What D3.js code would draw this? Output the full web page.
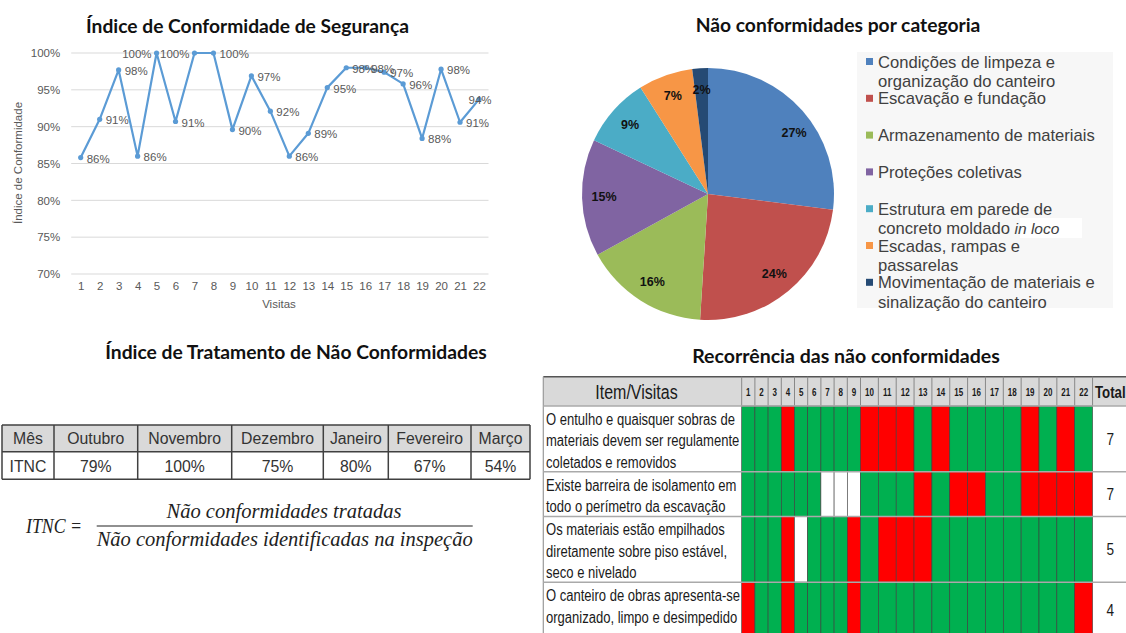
<!DOCTYPE html>
<html><head><meta charset="utf-8">
<script src="https://cdn.jsdelivr.net/npm/d3@7"></script>
<style>body{margin:0;background:#fff}svg{display:block}</style>
</head><body><svg id="c" width="1126" height="633"></svg>
<script>
// ---------- DATA ----------
const visits = ["1","2","3","4","5","6","7","8","9","10","11","12","13","14","15","16","17","18","19","20","21","22"];
const conformity = [0.858,0.910,0.977,0.860,1.000,0.907,1.000,1.000,0.896,0.969,0.921,0.860,0.891,0.953,0.980,0.980,0.974,0.958,0.884,0.978,0.906,0.937];
const yTicks = [0.70,0.75,0.80,0.85,0.90,0.95,1.00];

const categories = [
  ["Condições de limpeza e","organização do canteiro"],
  ["Escavação e fundação"],
  ["Armazenamento de materiais"],
  ["Proteções coletivas"],
  ["Estrutura em parede de","concreto moldado |in loco"],
  ["Escadas, rampas e","passarelas"],
  ["Movimentação de materiais e","sinalização do canteiro"]
];
const categoryShares = [27,24,16,15,9,7,2];
const categoryColors = ["#4f81bd","#c0504d","#9bbb59","#8064a2","#4bacc6","#f79646","#254a74"];

const months = ["Outubro","Novembro","Dezembro","Janeiro","Fevereiro","Março"];
const itnc = [79,100,75,80,67,54];

const items = [
  ["O entulho e quaisquer sobras de","materiais devem ser regulamente","coletados e removidos"],
  ["Existe barreira de isolamento em","todo o perímetro da escavação"],
  ["Os materiais estão empilhados","diretamente sobre piso estável,","seco e nivelado"],
  ["O canteiro de obras apresenta-se","organizado, limpo e desimpedido"]
];
// R = não conforme, G = conforme, W = não avaliado
const recurrence = [
  "GGGRGGGGGRRRGRGGGGRGRG",
  "GGGGGGWWWGGGRGRRGGRRRR",
  "GGGRWGGGRGRRRGGGGGGGGG",
  "RGGRGGGGRGGGGGGGGGGGGR"
];
const totals = [7,7,5,4];

// ---------- DRAW ----------
const svg = d3.select("#c");
const SANS = "'Liberation Sans', Arial, sans-serif";
const TITLE = "Lato, 'Open Sans', sans-serif";

function title(txt, cx, cy, w){
  const t = svg.append("text").attr("x",cx).attr("y",cy).attr("text-anchor","middle")
    .attr("dominant-baseline","central").attr("font-family",TITLE).attr("font-weight","bold")
    .attr("font-size",19).attr("fill","#111").text(txt);
  const L = t.node().getComputedTextLength();
  t.attr("font-size", 19*w/L);
}

// ===== Line chart =====
title("Índice de Conformidade de Segurança", 247.5, 25, 323);
const x = d3.scalePoint().domain(visits).range([80.7,479]);
const y = d3.scaleLinear().domain([0.70,1.00]).range([274,53]);
const lc = svg.append("g");
lc.selectAll("line.grid").data(yTicks).join("line").attr("class","grid")
  .attr("x1",71.2).attr("x2",488.5).attr("y1",d=>y(d)).attr("y2",d=>y(d))
  .attr("stroke","#d9d9d9").attr("stroke-width",1);
const ya = lc.append("g").attr("transform","translate(71.2,0)")
  .call(d3.axisLeft(y).tickValues(yTicks).tickFormat(d3.format(".0%")).tickSize(0).tickPadding(11));
ya.select(".domain").remove();
ya.selectAll("text").attr("font-family",SANS).attr("font-size",11.5).attr("fill","#595959");
const xa = lc.append("g").attr("transform","translate(0,274)")
  .call(d3.axisBottom(x).tickSize(0).tickPadding(8));
xa.select(".domain").remove();
xa.selectAll("text").attr("font-family",SANS).attr("font-size",11.5).attr("fill","#595959");
lc.append("text").attr("x",279).attr("y",304).attr("text-anchor","middle").attr("dominant-baseline","central")
  .attr("font-family",SANS).attr("font-size",11.5).attr("fill","#595959").text("Visitas");
lc.append("text").attr("transform","translate(18,163) rotate(-90)").attr("text-anchor","middle")
  .attr("dominant-baseline","central").attr("font-family",SANS).attr("font-size",11.5).attr("fill","#595959")
  .text("Índice de Conformidade");
lc.append("path").datum(conformity)
  .attr("d", d3.line().x((d,i)=>x(visits[i])).y(d=>y(d)))
  .attr("fill","none").attr("stroke","#5b9bd5").attr("stroke-width",2.2).attr("stroke-linejoin","round");
lc.selectAll("circle").data(conformity).join("circle")
  .attr("cx",(d,i)=>x(visits[i])).attr("cy",d=>y(d)).attr("r",2.6).attr("fill","#5b9bd5");
const leftLab = new Set([4,6]), centerLab = new Set([21]);
lc.selectAll("text.lab").data(conformity).join("text").attr("class","lab")
  .attr("x",(d,i)=> x(visits[i]) + (leftLab.has(i)? -5 : centerLab.has(i)? 1 : 6))
  .attr("y",d=>y(d)+1)
  .attr("text-anchor",(d,i)=> leftLab.has(i)?"end":centerLab.has(i)?"middle":"start")
  .attr("dominant-baseline","central")
  .attr("font-family",SANS).attr("font-size",11.5).attr("fill","#595959")
  .text(d=>Math.round(d*100)+"%");

// ===== Pie chart =====
title("Não conformidades por categoria", 838, 24, 285);
const pg = svg.append("g").attr("transform","translate(708,194)");
const pie = d3.pie().sort(null).value(d=>d);
const arcs = pie(categoryShares);
const arc = d3.arc().innerRadius(0).outerRadius(126);
const larc = d3.arc().innerRadius(104).outerRadius(104);
pg.selectAll("path").data(arcs).join("path").attr("d",arc).attr("fill",(d,i)=>categoryColors[i]);
pg.selectAll("text").data(arcs).join("text")
  .attr("transform",(d,i)=>{ const c = larc.centroid(d); if(i===0){c[0]+=8;c[1]+=8;} return `translate(${c})`; })
  .attr("text-anchor","middle").attr("dominant-baseline","central")
  .attr("font-family",SANS).attr("font-weight","bold").attr("font-size",12.5).attr("fill","#111")
  .text(d=>d.data+"%");

// legend
svg.append("rect").attr("x",857).attr("y",52).attr("width",256).attr("height",256).attr("fill","#f7f7f7");
const lg = svg.append("g");
categories.forEach((lines,i)=>{
  const cy = 61.5 + i*36.8;
  lg.append("rect").attr("x",866).attr("y",cy-3.5).attr("width",7).attr("height",7).attr("fill",categoryColors[i]);
  lines.forEach((ln,j)=>{
    const parts = ln.split("|");
    if(parts.length>1){
      lg.append("rect").attr("x",1020).attr("y",cy+j*19.3-10).attr("width",62).attr("height",20).attr("fill","#fff");
    }
    const t = lg.append("text").attr("x",878).attr("y",cy+j*19.3).attr("dominant-baseline","central")
      .attr("font-family",SANS).attr("font-size",16.6).attr("fill","#404040");
    t.append("tspan").text(parts[0]);
    if(parts.length>1) t.append("tspan").attr("font-style","italic").attr("font-size",15.5).text(parts[1]);
  });
});

// ===== ITNC table =====
title("Índice de Tratamento de Não Conformidades", 296, 351, 382);
const colX = [2,54,137.7,231.7,323.3,388.3,471,530];
const rowY = [425,451.7,479.3];
const tg = svg.append("g");
tg.append("rect").attr("x",colX[0]).attr("y",rowY[0]).attr("width",colX[7]-colX[0]).attr("height",rowY[1]-rowY[0]).attr("fill","#d9d9d9");
const header = ["Mês"].concat(months), vals = ["ITNC"].concat(itnc.map(v=>v+"%"));
[header, vals].forEach((row,r)=>{
  row.forEach((txt,c)=>{
    tg.append("text").attr("x",(colX[c]+colX[c+1])/2).attr("y",(rowY[r]+rowY[r+1])/2+0.5)
      .attr("text-anchor","middle").attr("dominant-baseline","central")
      .attr("font-family",SANS).attr("font-size",15.8).attr("fill","#333").text(txt);
  });
});
colX.forEach(cx=>tg.append("line").attr("x1",cx).attr("x2",cx).attr("y1",rowY[0]).attr("y2",rowY[2]).attr("stroke","#404040").attr("stroke-width",1.5));
rowY.forEach(ry=>tg.append("line").attr("x1",colX[0]).attr("x2",colX[7]).attr("y1",ry).attr("y2",ry).attr("stroke","#404040").attr("stroke-width",1.5));

// formula
const fg = svg.append("g").attr("font-family","'Liberation Serif', 'DejaVu Serif', serif").attr("font-style","italic").attr("fill","#222");
fg.append("text").attr("x",26).attr("y",526).attr("dominant-baseline","central").attr("font-size",20)
  .attr("textLength",56).attr("lengthAdjust","spacingAndGlyphs").text("ITNC =");
fg.append("text").attr("x",284).attr("y",511).attr("text-anchor","middle").attr("dominant-baseline","central").attr("font-size",20)
  .attr("textLength",235).attr("lengthAdjust","spacingAndGlyphs").text("Não conformidades tratadas");
fg.append("line").attr("x1",96.7).attr("x2",472.7).attr("y1",526).attr("y2",526).attr("stroke","#222").attr("stroke-width",1.2);
fg.append("text").attr("x",284.7).attr("y",539).attr("text-anchor","middle").attr("dominant-baseline","central").attr("font-size",20)
  .attr("textLength",376).attr("lengthAdjust","spacingAndGlyphs").text("Não conformidades identificadas na inspeção");

// ===== Recurrence grid =====
title("Recorrência das não conformidades", 846, 355, 308);
const gx0 = 543.3, gx1 = 741.7;
const widths = visits.map(v=> v.length>1 ? 17.85 : 13.2);
const colStart = []; widths.reduce((acc,w,i)=>{colStart[i]=acc; return acc+w;}, gx1);
const totX0 = colStart[21]+widths[21];
const headTop = 376.7, headBot = 406;
const rowH = items.map(l=> l.length*20.9 + 3);
const rowTop = []; rowH.reduce((acc,h,i)=>{rowTop[i]=acc; return acc+h;}, headBot);
rowH[3] = 633 - rowTop[3] + 6;
const colorMap = {G:"#00b050", R:"#ff0000", W:"#ffffff"};
const gg = svg.append("g");
gg.append("rect").attr("x",gx0).attr("y",headTop).attr("width",1126-gx0).attr("height",headBot-headTop).attr("fill","#d9d9d9");
recurrence.forEach((row,r)=>{
  row.split("").forEach((s,c)=>{
    gg.append("rect").attr("x",colStart[c]).attr("y",rowTop[r]).attr("width",widths[c]).attr("height",rowH[r])
      .attr("fill",colorMap[s]).attr("stroke","#3c3c3c").attr("stroke-width",0.6);
  });
});
// header borders
gg.append("line").attr("x1",gx0).attr("x2",1126).attr("y1",headTop).attr("y2",headTop).attr("stroke","#555").attr("stroke-width",1.5);
[gx1].concat(colStart.slice(1), [totX0]).forEach(cx=>{
  gg.append("line").attr("x1",cx).attr("x2",cx).attr("y1",headTop).attr("y2",headBot).attr("stroke","#888").attr("stroke-width",1);
});
gg.append("line").attr("x1",gx0).attr("x2",gx0).attr("y1",headTop).attr("y2",633).attr("stroke","#999").attr("stroke-width",1.2);
[headBot].concat(rowTop.slice(1)).forEach(ry=>{
  gg.append("line").attr("x1",gx0).attr("x2",1126).attr("y1",ry).attr("y2",ry).attr("stroke","#aaa").attr("stroke-width",1.5);
});
function narrow(txt, x, y, size, anchor, weight, sx){
  gg.append("text").attr("transform",`translate(${x},${y}) scale(${sx},1)`)
    .attr("text-anchor",anchor).attr("dominant-baseline","central")
    .attr("font-family",SANS).attr("font-size",size).attr("font-weight",weight||"normal").attr("fill","#1a1a1a").text(txt);
}
narrow("Item/Visitas", (gx0+gx1)/2-6, (headTop+headBot)/2+1, 20, "middle", "normal", 0.8);
visits.forEach((v,c)=> narrow(v, colStart[c]+widths[c]/2, (headTop+headBot)/2+1, 10, "middle", "bold", 0.8));
narrow("Total", (totX0+1126)/2+1, (headTop+headBot)/2+1, 17, "middle", "bold", 0.78);
items.forEach((lines,r)=>{
  lines.forEach((ln,j)=> narrow(ln, 546, rowTop[r]+13.5+j*21.4, 16, "start", "normal", 0.815));
  narrow(String(totals[r]), (totX0+1126)/2+1, rowTop[r]+ (r===3? 28 : rowH[r]/2), 17, "middle", "normal", 0.8);
});
</script></body></html>
